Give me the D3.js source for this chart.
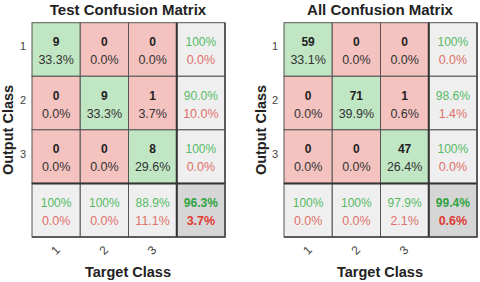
<!DOCTYPE html>
<html>
<head>
<meta charset="utf-8">
<script src="https://cdn.jsdelivr.net/npm/d3@7"></script>
<style>
  body { margin: 0; background: #fff; }
  text { font-family: "Liberation Sans", Arial, sans-serif; }
</style>
</head>
<body>
<svg id="chart" width="480" height="282"></svg>
<script>
const classes = ["1", "2", "3"];

// Test matrix
const testCounts = [[9, 0, 0], [0, 9, 1], [0, 0, 8]];
const testPct = [["33.3%", "0.0%", "0.0%"], ["0.0%", "33.3%", "3.7%"], ["0.0%", "0.0%", "29.6%"]];
const testRowGood = ["100%", "90.0%", "100%"];
const testRowBad = ["0.0%", "10.0%", "0.0%"];
const testColGood = ["100%", "100%", "88.9%"];
const testColBad = ["0.0%", "0.0%", "11.1%"];
const testTotal = ["96.3%", "3.7%"];

// All matrix
const allCounts = [[59, 0, 0], [0, 71, 1], [0, 0, 47]];
const allPct = [["33.1%", "0.0%", "0.0%"], ["0.0%", "39.9%", "0.6%"], ["0.0%", "0.0%", "26.4%"]];
const allRowGood = ["100%", "98.6%", "100%"];
const allRowBad = ["0.0%", "1.4%", "0.0%"];
const allColGood = ["100%", "100%", "97.9%"];
const allColBad = ["0.0%", "0.0%", "2.1%"];
const allTotal = ["99.4%", "0.6%"];

const svg = d3.select("#chart");

function drawMatrix(opt) {
  const keys = classes.concat(["sum"]);
  const x = d3.scaleBand().domain(keys).range([opt.left, opt.left + 193]);
  const y = d3.scaleBand().domain(keys).range([22.7, 237]);
  const g = svg.append("g");

  const cells = [];
  classes.forEach((r, i) => {
    classes.forEach((c, j) => {
      cells.push({
        r, c, fill: i === j ? "#c0e6c3" : "#f4c2bf",
        top: String(opt.counts[i][j]), bottom: opt.pct[i][j],
        topColor: "#222", bottomColor: "#333", bold: true
      });
    });
    cells.push({
      r, c: "sum", fill: "#efefef",
      top: opt.rowGood[i], bottom: opt.rowBad[i],
      topColor: "#55bb66", bottomColor: "#e0716b", bold: false
    });
  });
  classes.forEach((c, j) => {
    cells.push({
      r: "sum", c, fill: "#efefef",
      top: opt.colGood[j], bottom: opt.colBad[j],
      topColor: "#55bb66", bottomColor: "#e0716b", bold: false
    });
  });
  cells.push({
    r: "sum", c: "sum", fill: "#d6d6d6",
    top: opt.total[0], bottom: opt.total[1],
    topColor: "#2ea33f", bottomColor: "#df3a34", bold: true
  });

  g.selectAll("rect.cell")
    .data(cells)
    .join("rect")
    .attr("class", "cell")
    .attr("x", (d) => x(d.c))
    .attr("y", (d) => y(d.r))
    .attr("width", x.bandwidth())
    .attr("height", y.bandwidth())
    .attr("fill", (d) => d.fill)
    .attr("stroke", "#555")
    .attr("stroke-width", 1);

  g.selectAll("text.top")
    .data(cells)
    .join("text")
    .attr("class", "top")
    .attr("x", (d) => x(d.c) + x.bandwidth() / 2)
    .attr("y", (d) => y(d.r) + y.bandwidth() / 2 - 3.5)
    .attr("text-anchor", "middle")
    .attr("font-size", "12px")
    .attr("font-weight", (d) => (d.bold ? "bold" : "normal"))
    .attr("fill", (d) => d.topColor)
    .text((d) => d.top);

  g.selectAll("text.bottom")
    .data(cells)
    .join("text")
    .attr("class", "bottom")
    .attr("x", (d) => x(d.c) + x.bandwidth() / 2)
    .attr("y", (d) => y(d.r) + y.bandwidth() / 2 + 14.5)
    .attr("text-anchor", "middle")
    .attr("font-size", "12.5px")
    .attr("font-weight", (d) => (d.r === "sum" && d.c === "sum" ? "bold" : "normal"))
    .attr("fill", (d) => d.bottomColor)
    .text((d) => d.bottom);

  // thicker separators before the summary row and column
  g.append("line")
    .attr("x1", x("sum")).attr("x2", x("sum"))
    .attr("y1", y("1")).attr("y2", y("sum") + y.bandwidth())
    .attr("stroke", "#333").attr("stroke-width", 2);
  g.append("line")
    .attr("x1", x("1")).attr("x2", x("sum") + x.bandwidth())
    .attr("y1", y("sum")).attr("y2", y("sum"))
    .attr("stroke", "#333").attr("stroke-width", 2);
  // outer right / bottom edge
  g.append("path")
    .attr("d", `M${x("sum") + x.bandwidth()},${y("1")}V${y("sum") + y.bandwidth()}H${x("1")}`)
    .attr("fill", "none").attr("stroke", "#444").attr("stroke-width", 1.5);

  // row labels
  g.selectAll("text.rowlab")
    .data(classes)
    .join("text")
    .attr("class", "rowlab")
    .attr("x", x("1") - 6)
    .attr("y", (d) => y(d) + y.bandwidth() / 2 - 2)
    .attr("text-anchor", "end")
    .attr("dominant-baseline", "middle")
    .attr("font-size", "11px")
    .attr("fill", "#444")
    .text((d) => d);

  // column labels (rotated)
  g.selectAll("text.collab")
    .data(classes)
    .join("text")
    .attr("class", "collab")
    .attr("transform", (d) => `translate(${x(d) + x.bandwidth() / 2},251) rotate(-45)`)
    .attr("text-anchor", "middle")
    .attr("dominant-baseline", "middle")
    .attr("font-size", "12px")
    .attr("fill", "#444")
    .text((d) => d);

  const cx = opt.left + 96;
  g.append("text")
    .attr("x", cx).attr("y", 15)
    .attr("text-anchor", "middle")
    .attr("font-size", "15px").attr("font-weight", "bold")
    .attr("fill", "#222")
    .text(opt.title);

  g.append("text")
    .attr("x", cx).attr("y", 277)
    .attr("text-anchor", "middle")
    .attr("font-size", "14.5px").attr("font-weight", "bold")
    .attr("fill", "#222")
    .text("Target Class");

  g.append("text")
    .attr("transform", `translate(${opt.ylabX},130) rotate(-90)`)
    .attr("text-anchor", "middle")
    .attr("dominant-baseline", "middle")
    .attr("font-size", "14.5px").attr("font-weight", "bold")
    .attr("fill", "#222")
    .text("Output Class");
}

drawMatrix({
  left: 32, ylabX: 9, title: "Test Confusion Matrix",
  counts: testCounts, pct: testPct,
  rowGood: testRowGood, rowBad: testRowBad,
  colGood: testColGood, colBad: testColBad, total: testTotal
});

drawMatrix({
  left: 284, ylabX: 262, title: "All Confusion Matrix",
  counts: allCounts, pct: allPct,
  rowGood: allRowGood, rowBad: allRowBad,
  colGood: allColGood, colBad: allColBad, total: allTotal
});
</script>
</body>
</html>
